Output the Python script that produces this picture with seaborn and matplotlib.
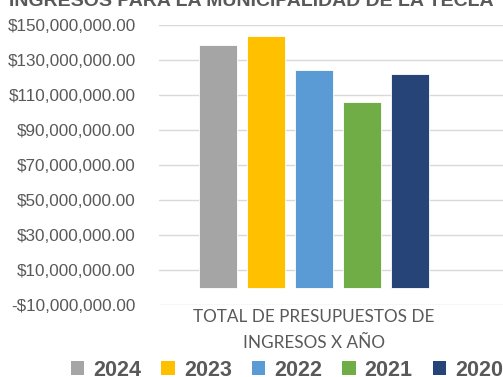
import matplotlib
matplotlib.use("Agg")
import matplotlib.pyplot as plt
from matplotlib import font_manager
from matplotlib.patches import Patch
from matplotlib.ticker import FuncFormatter
import seaborn as sns
import pandas as pd

# Budget totals per year
categoria = "TOTAL DE PRESUPUESTOS DE\nINGRESOS X AÑO"
anios = ["2024", "2023", "2022", "2021", "2020"]
valores = [138_400_000, 143_700_000, 124_300_000, 106_200_000, 122_000_000]
colores = ["#A5A5A5", "#FFC000", "#5B9BD5", "#70AD47", "#264478"]
ticks_y = list(range(-10_000_000, 150_000_001, 20_000_000))
titulo = "INGRESOS PARA LA MUNICIPALIDAD DE LA TECLA"

sns.set_theme(style="white")
available = {f.name for f in font_manager.fontManager.ttflist}
narrow = "Liberation Sans Narrow" if "Liberation Sans Narrow" in available else None
plt.rcParams["font.family"] = ["Liberation Sans", "DejaVu Sans"]

df = pd.DataFrame({"categoria": [categoria] * len(anios), "anio": anios, "valor": valores})

W, H = 503, 377
fig = plt.figure(figsize=(W / 100, H / 100), dpi=100)
ax = fig.add_axes([159 / W, (H - 305) / H, (W - 159) / W, 280 / H])

sns.barplot(data=df, x="categoria", y="valor", hue="anio", hue_order=anios,
            palette=colores, saturation=1, width=0.8, gap=0.22, legend=False, ax=ax,
            edgecolor="white", linewidth=0.6)

ax.set_ylim(-10_000_000, 150_000_000)
ax.set_xlim(-(314 - 159) / 300, (W - 314) / 300)
ax.set_yticks(ticks_y)


def money(v, _):
    s = f"${abs(v):,.2f}"
    return "-" + s if v < 0 else s


ax.yaxis.set_major_formatter(FuncFormatter(money))
ax.grid(axis="y", color="#D9D9D9", linewidth=1.0)
ax.set_axisbelow(True)
for s in ax.spines.values():
    s.set_visible(False)
ax.set_xlabel("")
ax.set_ylabel("")

if narrow:
    tick_font = dict(family=narrow, size=14.4)
else:
    tick_font = dict(family="Liberation Sans", size=12.3)
ax.tick_params(axis="y", length=0, pad=16.6, colors="#595959")
for lab in ax.get_yticklabels():
    lab.set_fontfamily(tick_font["family"])
    lab.set_fontsize(tick_font["size"])

ax.tick_params(axis="x", length=0, pad=3, colors="#595959")
for lab in ax.get_xticklabels():
    lab.set_fontfamily(["Lato", "DejaVu Sans"])
    lab.set_fontsize(12.3)
    lab.set_linespacing(1.75)

fig.text(251 / W, 1 - 6 / H, titulo, ha="center", va="baseline",
         fontsize=14, fontweight="bold", color="#595959")

handles = [Patch(facecolor=c, edgecolor="none", label=a) for a, c in zip(anios, colores)]
fig.legend(handles=handles, loc="center", bbox_to_anchor=(287 / W, 1 - 370 / H),
           ncol=5, frameon=False, prop=dict(family="Liberation Sans", weight="bold", size=15.5),
           handlelength=0.62, handleheight=0.62, handletextpad=0.42,
           columnspacing=0.93, borderpad=0, labelcolor="#595959")

fig.savefig("out.png", dpi=100)
